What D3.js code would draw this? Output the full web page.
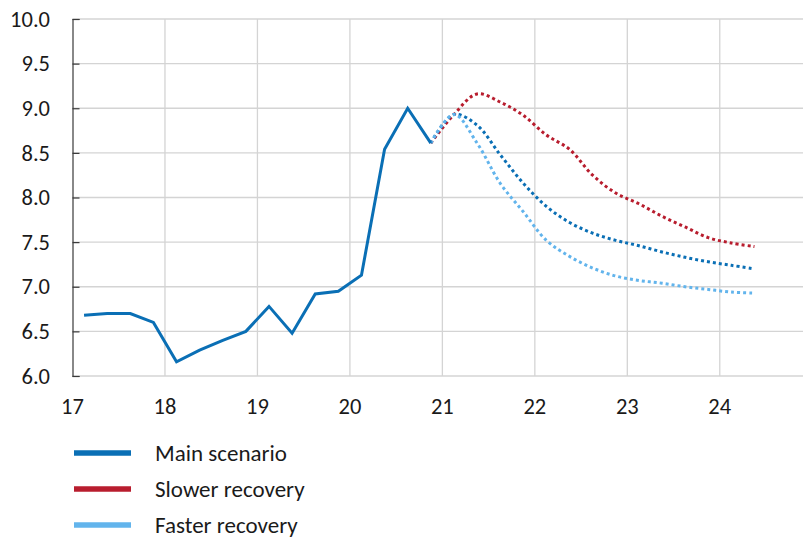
<!DOCTYPE html>
<html>
<head>
<meta charset="utf-8">
<script src="https://cdn.jsdelivr.net/npm/d3@7/dist/d3.min.js"></script>
<style>
  html, body { margin: 0; padding: 0; background: #fff; }
  svg { display: block; }
  text { font-family: Carlito, Calibri, "Open Sans", sans-serif; fill: #1a1a1a; }
</style>
</head>
<body>
<svg id="chart" width="803" height="539"></svg>
<script>
// Quarterly observations (year 20xx, quarter)
const histPeriods = ["17Q1","17Q2","17Q3","17Q4","18Q1","18Q2","18Q3","18Q4",
                     "19Q1","19Q2","19Q3","19Q4","20Q1","20Q2","20Q3","20Q4"];
const histValues = [6.68, 6.70, 6.70, 6.60, 6.16, 6.29, 6.40, 6.50,
                    6.78, 6.48, 6.92, 6.95, 7.13, 8.54, 9.00, 8.61];

// Projection periods, starting from the last observed quarter
const fcPeriods = ["20Q4","21Q1","21Q2","21Q3","21Q4","22Q1","22Q2","22Q3","22Q4",
                   "23Q1","23Q2","23Q3","23Q4","24Q1","24Q2"];
const mainValues   = [8.61, 8.93, 8.81, 8.48, 8.16, 7.90, 7.72, 7.60, 7.52,
                      7.46, 7.39, 7.33, 7.28, 7.24, 7.20];
const slowerValues = [8.61, 8.93, 9.16, 9.07, 8.92, 8.70, 8.54, 8.25, 8.05,
                      7.93, 7.79, 7.67, 7.55, 7.49, 7.45];
const fasterValues = [8.61, 8.93, 8.61, 8.16, 7.84, 7.52, 7.34, 7.21, 7.12,
                      7.07, 7.04, 7.00, 6.97, 6.94, 6.93];

const xTicks = [17, 18, 19, 20, 21, 22, 23, 24];
const yTicks = [6.0, 6.5, 7.0, 7.5, 8.0, 8.5, 9.0, 9.5, 10.0];

const legendItems = [
  { label: "Main scenario",   color: "#0a6fb5" },
  { label: "Slower recovery", color: "#b81d2e" },
  { label: "Faster recovery", color: "#62b4ec" }
];

// Mid-quarter position on the year axis
const toTime = p => +p.slice(0, 2) + (+p.slice(3) - 0.5) / 4;

const svg = d3.select("#chart");
const x = d3.scaleLinear().domain([17, 24.9]).range([72.5, 803]);
const y = d3.scaleLinear().domain([6, 10]).range([376, 19]);

// Gridlines
const grid = svg.append("g");
grid.selectAll("line.h").data(yTicks).join("line")
  .attr("x1", x(17)).attr("x2", 803)
  .attr("y1", d => y(d)).attr("y2", d => y(d))
  .attr("stroke", "#d4d4d4").attr("stroke-width", 1.3);
grid.selectAll("line.v").data(xTicks.slice(1)).join("line")
  .attr("x1", d => x(d)).attr("x2", d => x(d))
  .attr("y1", y(10)).attr("y2", y(6))
  .attr("stroke", "#d4d4d4").attr("stroke-width", 1.3);

// Y axis: dark line, short inward ticks, labels on the left
const yAxis = d3.axisRight(y).tickValues(yTicks).tickSize(7).tickFormat("");
const gy = svg.append("g").attr("transform", `translate(${x(17)},0)`).call(yAxis);
gy.select(".domain").attr("stroke", "#3a3a3a").attr("stroke-width", 1.2);
gy.selectAll(".tick line").attr("stroke", "#3a3a3a").attr("stroke-width", 1.2);
svg.append("g").selectAll("text").data(yTicks).join("text")
  .attr("x", 50).attr("y", d => y(d)).attr("dy", "0.34em")
  .attr("text-anchor", "end").attr("font-size", 22.5)
  .text(d => d3.format(".1f")(d));

// X labels
svg.append("g").selectAll("text").data(xTicks).join("text")
  .attr("x", d => x(d)).attr("y", 406).attr("dy", "0.34em")
  .attr("text-anchor", "middle").attr("font-size", 22.5)
  .text(d => d);

// Series
const histLine = d3.line().x(d => x(toTime(d[0]))).y(d => y(d[1]));
const fcLine = d3.line().x(d => x(toTime(d[0]))).y(d => y(d[1]))
  .curve(d3.curveCatmullRom.alpha(0.5));

const forecasts = [
  { values: slowerValues, color: legendItems[1].color },
  { values: mainValues,   color: legendItems[0].color },
  { values: fasterValues, color: legendItems[2].color }
];
forecasts.forEach(s => {
  svg.append("path")
    .datum(d3.zip(fcPeriods, s.values))
    .attr("d", fcLine)
    .attr("fill", "none").attr("stroke", s.color)
    .attr("stroke-width", 3).attr("stroke-dasharray", "3,3");
});

svg.append("path")
  .datum(d3.zip(histPeriods, histValues))
  .attr("d", histLine)
  .attr("fill", "none").attr("stroke", legendItems[0].color)
  .attr("stroke-width", 3).attr("stroke-linejoin", "miter");

// Legend
const lg = svg.append("g").selectAll("g").data(legendItems).join("g")
  .attr("transform", (d, i) => `translate(0,${453 + i * 36})`);
lg.append("line").attr("x1", 74).attr("x2", 131).attr("y1", 0).attr("y2", 0)
  .attr("stroke", d => d.color).attr("stroke-width", 5.5);
lg.append("text").attr("x", 155).attr("y", 0).attr("dy", "0.34em")
  .attr("font-size", 23).text(d => d.label);
</script>
</body>
</html>
